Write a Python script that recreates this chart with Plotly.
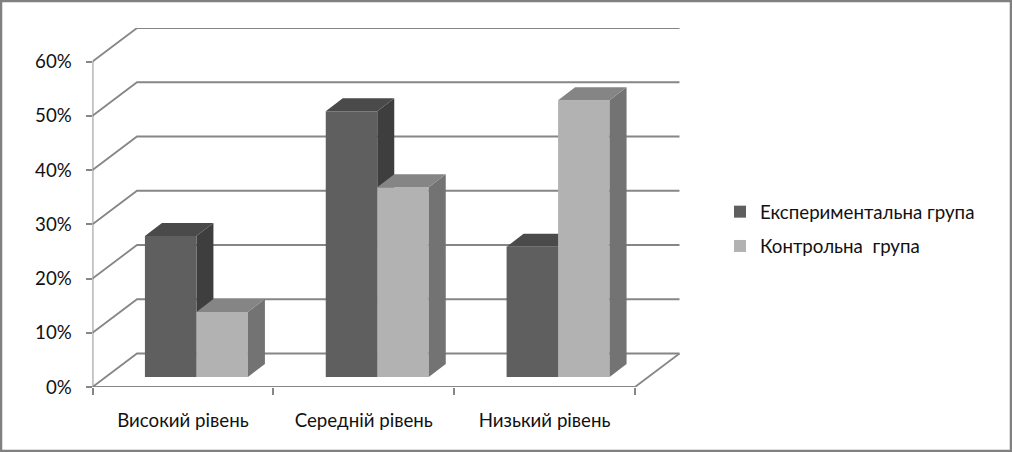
import plotly.graph_objects as go

categories = ["Високий рівень", "Середній рівень", "Низький рівень"]
series_names = ["Експериментальна група", "Контрольна  група"]
exp_values = [26, 49, 24]
ctrl_values = [12, 35, 51]
y_ticks = [0, 10, 20, 30, 40, 50, 60]
y_tick_labels = ["0%", "10%", "20%", "30%", "40%", "50%", "60%"]

W, H = 1012, 452
PX_LEFT, PX_RIGHT, PX_BOTTOM, PX_TOP = 92.5, 680.0, 387.0, 28.0
PX_PER_CAT = 180.83
PX_PER_PCT = 5.425
x_low = -0.5
x_high = x_low + (PX_RIGHT - PX_LEFT) / PX_PER_CAT
y_high = (PX_BOTTOM - PX_TOP) / PX_PER_PCT
wall_dx = 44.5 / PX_PER_CAT
wall_dy = 33.5 / PX_PER_PCT
bar_w = 51.5 / PX_PER_CAT
bar_shift = 13.5 / PX_PER_CAT
bar_base = 10 / PX_PER_PCT
bar_dx = 17 / PX_PER_CAT
bar_dy = 13 / PX_PER_PCT

GRID = "#868686"
DARK = ("#5f5f5f", "#4a4a4a", "#3e3e3e")
LIGHT = ("#b2b2b2", "#858585", "#737373")
FONT_SIZE = 18.7


def path(points):
    return "M " + " L ".join(f"{x},{y}" for x, y in points) + " Z"


def faces(i, value, left):
    right = left + bar_w
    top = bar_base + value
    side = [(right, bar_base), (right + bar_dx, bar_base + bar_dy),
            (right + bar_dx, top + bar_dy), (right, top)]
    lid = [(left, top), (left + bar_dx, top + bar_dy),
           (right + bar_dx, top + bar_dy), (right, top)]
    return side, lid


shapes = []
end_x = x_low + len(categories)
for t in y_ticks:
    pts = [(x_low, t), (x_low + wall_dx, t + wall_dy), (end_x + wall_dx, t + wall_dy)]
    shapes.append(dict(type="path", layer="below", xref="x", yref="y",
                       path="M " + " L ".join(f"{a},{b}" for a, b in pts),
                       line=dict(color=GRID, width=1.8)))
shapes.append(dict(type="line", layer="below", xref="x", yref="y", x0=x_low, x1=end_x, y0=0, y1=0,
                   line=dict(color=GRID, width=1.8)))
shapes.append(dict(type="line", layer="below", xref="x", yref="y", x0=end_x, x1=end_x + wall_dx,
                   y0=0, y1=wall_dy, line=dict(color=GRID, width=1.8)))
shapes.append(dict(type="line", layer="below", xref="x", yref="y", x0=x_low, x1=x_low, y0=0, y1=y_ticks[-1],
                   line=dict(color=GRID, width=1.8)))

for i, v in enumerate(exp_values):
    side, lid = faces(i, v, i + bar_shift - bar_w)
    shapes.append(dict(type="path", layer="below", xref="x", yref="y", path=path(side),
                       fillcolor=DARK[2], line=dict(width=0)))
    shapes.append(dict(type="path", layer="below", xref="x", yref="y", path=path(lid),
                       fillcolor=DARK[1], line=dict(width=0)))

fig = go.Figure()
x_centers = list(range(len(categories)))
fig.add_trace(go.Bar(x=[i + bar_shift - bar_w / 2 for i in x_centers], y=exp_values, base=bar_base,
                     width=bar_w, name=series_names[0], marker=dict(color=DARK[0], line=dict(width=0)),
                     legendgroup="a", hoverinfo="y"))
fig.add_trace(go.Bar(x=[i + bar_shift + bar_w / 2 for i in x_centers], y=ctrl_values, base=bar_base,
                     width=bar_w, name=series_names[1], marker=dict(color=LIGHT[0], line=dict(width=0)),
                     legendgroup="b", hoverinfo="y"))

sx, sy, lx, ly = [], [], [], []
for i, v in enumerate(ctrl_values):
    side, lid = faces(i, v, i + bar_shift)
    for p in side + [side[0], (None, None)]:
        sx.append(p[0]); sy.append(p[1])
    for p in lid + [lid[0], (None, None)]:
        lx.append(p[0]); ly.append(p[1])
fig.add_trace(go.Scatter(x=sx, y=sy, mode="lines", fill="toself", fillcolor=LIGHT[2],
                         line=dict(width=0, color=LIGHT[2]), showlegend=False, hoverinfo="skip"))
fig.add_trace(go.Scatter(x=lx, y=ly, mode="lines", fill="toself", fillcolor=LIGHT[1],
                         line=dict(width=0, color=LIGHT[1]), showlegend=False, hoverinfo="skip"))

shapes.append(dict(type="rect", xref="paper", yref="paper", x0=1 / W, x1=1 - 1 / W, y0=1 / H, y1=1 - 1 / H,
                   line=dict(color="#808080", width=2.5), layer="above"))

FONT = "Lato"
fig.update_layout(
    width=W, height=H, margin=dict(l=0, r=0, t=0, b=0, autoexpand=False), autosize=False,
    paper_bgcolor="white", plot_bgcolor="white", barmode="overlay", shapes=shapes,
    font=dict(family=FONT, size=FONT_SIZE, color="#111111"),
    xaxis=dict(domain=[PX_LEFT / W, PX_RIGHT / W], range=[x_low, x_high], showgrid=False, zeroline=False,
               showline=False, tickmode="array", tickvals=x_centers, ticktext=categories, ticks="",
               ticklabelstandoff=20, tickfont=dict(size=FONT_SIZE),
               minor=dict(tickmode="array", tickvals=[c - 0.5 for c in range(len(categories) + 1)], ticks="outside",
                          ticklen=7, tickwidth=1.8, tickcolor=GRID, showgrid=False)),
    yaxis=dict(domain=[(H - PX_BOTTOM) / H, (H - PX_TOP) / H], range=[0, y_high], showgrid=False, zeroline=False,
               showline=False, tickmode="array", tickvals=y_ticks, ticktext=y_tick_labels, ticks="outside",
               ticklen=6, tickwidth=1.8, tickcolor=GRID, ticklabelstandoff=10, tickfont=dict(size=FONT_SIZE)),
    legend=dict(x=720 / W, y=(H - 229) / H, xanchor="left", yanchor="middle", font=dict(size=FONT_SIZE),
                tracegroupgap=7, itemclick=False, itemdoubleclick=False, traceorder="grouped",
                bgcolor="rgba(0,0,0,0)"),
)

fig.write_html("out.html", config=dict(displayModeBar=False),
               post_script="document.body.style.margin='0';document.body.style.overflow='hidden';")
